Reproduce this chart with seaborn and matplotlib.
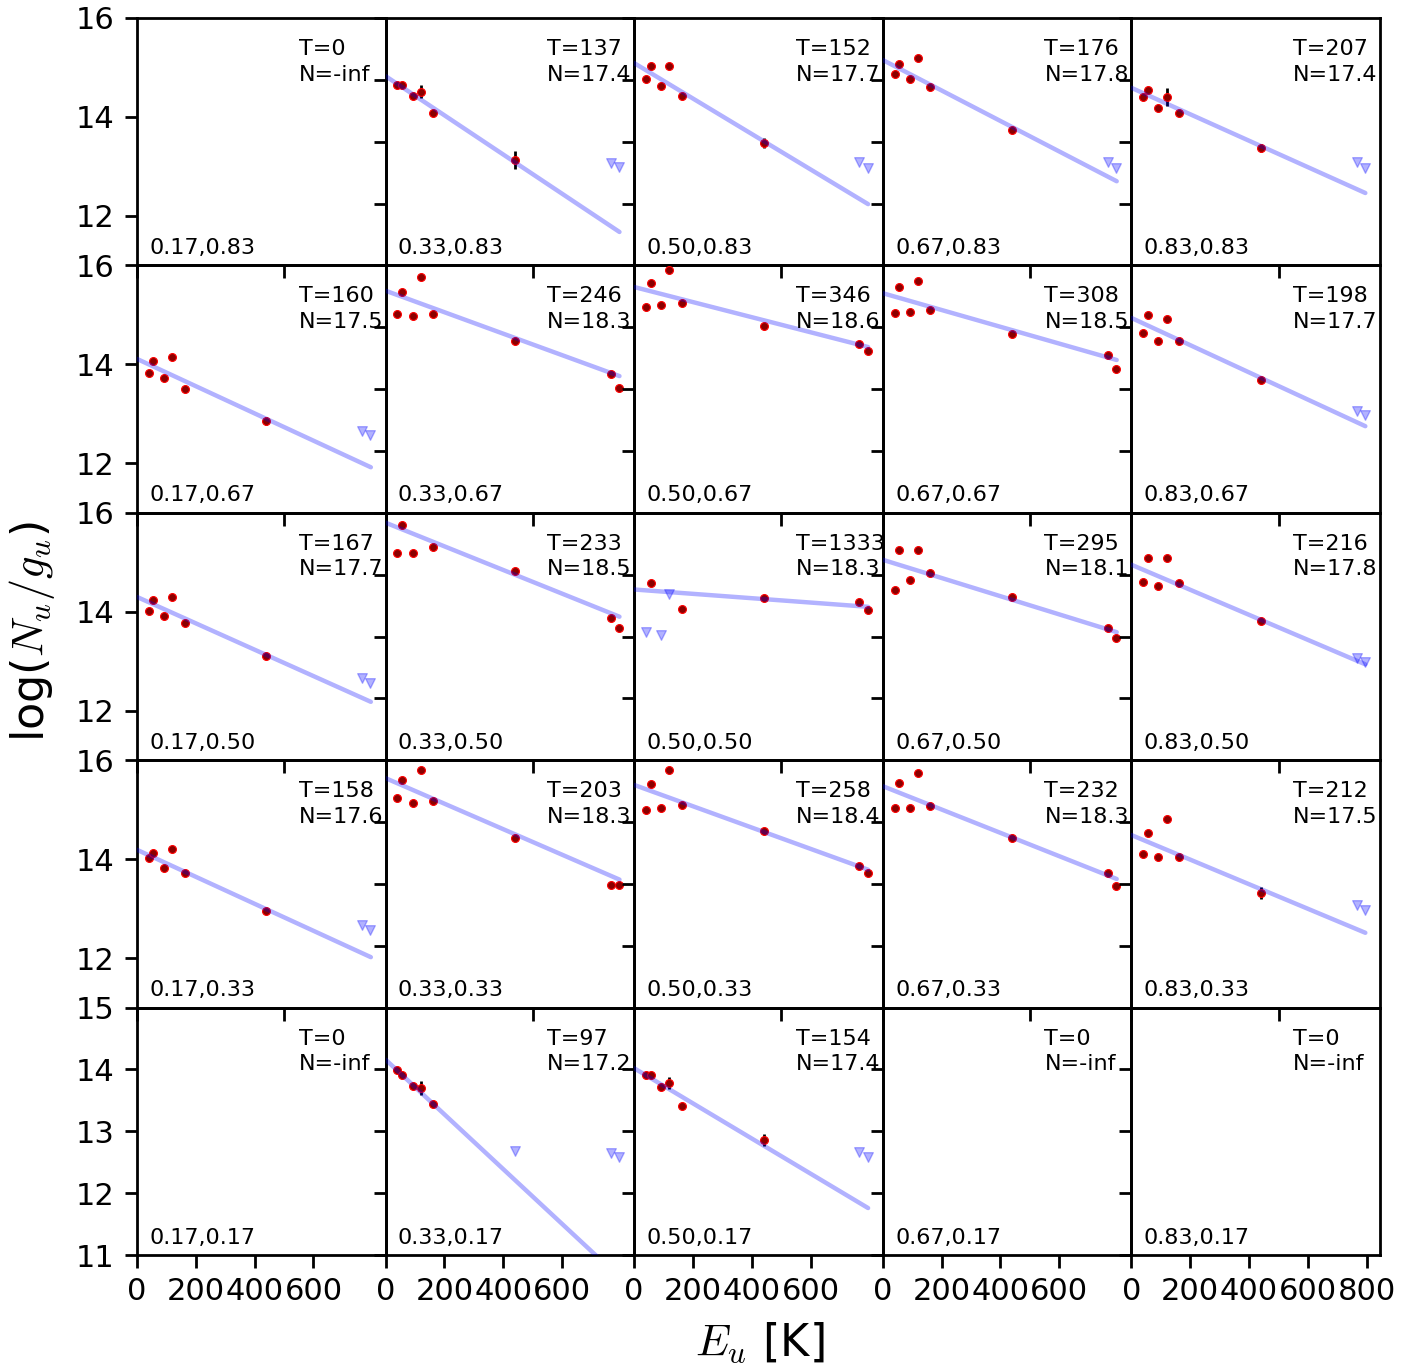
import numpy as np
import pandas as pd
import matplotlib
matplotlib.use("Agg")
import matplotlib.pyplot as plt
import seaborn as sns

nan = np.nan

# ---------------- data ----------------
E_U = [40, 56, 92, 120, 162, 440, 765, 793]          # upper-level energies [K]
FIT_E = [0, 795]                                     # extent of the fitted lines
COL_LABELS = ["0.17", "0.33", "0.50", "0.67", "0.83"]
ROW_LABELS = ["0.83", "0.67", "0.50", "0.33", "0.17"]

T_ROW_083 = ["0", "137", "152", "176", "207"]
N_ROW_083 = ["-inf", "17.4", "17.7", "17.8", "17.4"]
T_ROW_067 = ["160", "246", "346", "308", "198"]
N_ROW_067 = ["17.5", "18.3", "18.6", "18.5", "17.7"]
T_ROW_050 = ["167", "233", "1333", "295", "216"]
N_ROW_050 = ["17.7", "18.5", "18.3", "18.1", "17.8"]
T_ROW_033 = ["158", "203", "258", "232", "212"]
N_ROW_033 = ["17.6", "18.3", "18.4", "18.3", "17.5"]
T_ROW_017 = ["0", "97", "154", "0", "0"]
N_ROW_017 = ["-inf", "17.2", "17.4", "-inf", "-inf"]

# fitted line: log(Nu/gu) at E=0 and at E=795 K
FIT_Y0_083 = [nan, 14.06, 14.27, 14.32, 13.87]
FIT_Y1_083 = [nan, 11.54, 11.99, 12.36, 12.17]
FIT_Y0_067 = [14.11, 14.59, 14.65, 14.55, 14.15]
FIT_Y1_067 = [11.92, 13.21, 13.68, 13.47, 12.40]
FIT_Y0_050 = [14.30, 14.84, 13.76, 14.24, 14.16]
FIT_Y1_050 = [12.18, 13.32, 13.48, 13.07, 12.55]
FIT_Y0_033 = [14.19, 14.71, 14.60, 14.58, 13.79]
FIT_Y1_033 = [12.02, 13.07, 13.23, 13.08, 12.21]
FIT_Y0_017 = [nan, 14.16, 14.02, nan, nan]
FIT_Y1_017 = [nan, 10.64, 11.76, nan, nan]

# detections (nan = not detected) and upper limits (nan = detected)
DET_033_083 = [13.91, 13.91, 13.74, 13.81, 13.46, 12.70, nan, nan]
LIM_033_083 = [nan, nan, nan, nan, nan, nan, 12.65, 12.59]
ERR_033_083 = [0.03, 0.03, 0.03, 0.10, 0.03, 0.15, 0.03, 0.03]
DET_050_083 = [14.01, 14.22, 13.90, 14.22, 13.74, 12.98, nan, nan]
LIM_050_083 = [nan, nan, nan, nan, nan, nan, 12.67, 12.57]
ERR_050_083 = [0.03, 0.03, 0.03, 0.03, 0.03, 0.08, 0.03, 0.03]
DET_067_083 = [14.09, 14.26, 14.01, 14.35, 13.88, 13.19, nan, nan]
LIM_067_083 = [nan, nan, nan, nan, nan, nan, 12.67, 12.57]
DET_083_083 = [13.72, 13.84, 13.54, 13.72, 13.46, 12.90, nan, nan]
LIM_083_083 = [nan, nan, nan, nan, nan, nan, 12.67, 12.57]
ERR_083_083 = [0.03, 0.03, 0.03, 0.15, 0.03, 0.07, 0.03, 0.03]

DET_017_067 = [13.83, 14.07, 13.73, 14.14, 13.51, 12.86, nan, nan]
LIM_017_067 = [nan, nan, nan, nan, nan, nan, 12.66, 12.57]
ERR_017_067 = [0.03, 0.03, 0.03, 0.03, 0.03, 0.08, 0.03, 0.03]
DET_033_067 = [14.21, 14.57, 14.18, 14.81, 14.21, 13.78, 13.24, 13.02]
DET_050_067 = [14.33, 14.72, 14.36, 14.92, 14.39, 14.02, 13.73, 13.62]
DET_067_067 = [14.23, 14.65, 14.25, 14.75, 14.28, 13.89, 13.55, 13.33]
DET_083_067 = [13.91, 14.19, 13.77, 14.14, 13.78, 13.15, nan, nan]
LIM_083_067 = [nan, nan, nan, nan, nan, nan, 12.65, 12.58]

DET_017_050 = [14.02, 14.24, 13.91, 14.30, 13.77, 13.11, nan, nan]
LIM_017_050 = [nan, nan, nan, nan, nan, nan, 12.66, 12.56]
DET_033_050 = [14.35, 14.80, 14.35, nan, 14.44, 14.06, 13.30, 13.13]
DET_050_050 = [nan, 13.86, nan, nan, 13.44, 13.63, 13.55, 13.43]
LIM_050_050 = [13.07, nan, 13.03, 13.69, nan, nan, nan, nan]
DET_067_050 = [13.75, 14.40, 13.91, 14.40, 14.03, 13.64, 13.14, 12.98]
DET_083_050 = [13.88, 14.27, 13.82, 14.27, 13.86, 13.25, nan, nan]
LIM_083_050 = [nan, nan, nan, nan, nan, nan, 12.65, 12.59]

DET_017_033 = [14.02, 14.13, 13.82, 14.21, 13.72, 12.95, nan, nan]
LIM_017_033 = [nan, nan, nan, nan, nan, nan, 12.67, 12.57]
DET_033_033 = [14.39, 14.68, 14.31, 14.84, 14.34, 13.74, 12.98, 12.98]
DET_050_033 = [14.20, 14.62, 14.23, 14.84, 14.28, 13.86, 13.29, 13.18]
DET_067_033 = [14.23, 14.63, 14.23, 14.79, 14.26, 13.74, 13.18, 12.97]
DET_083_033 = [13.48, 13.83, 13.43, 14.05, 13.43, 12.85, nan, nan]
LIM_083_033 = [nan, nan, nan, nan, nan, nan, 12.66, 12.58]
ERR_083_033 = [0.03, 0.03, 0.03, 0.03, 0.03, 0.10, 0.03, 0.03]

DET_033_017 = [13.99, 13.91, 13.73, 13.70, 13.45, nan, nan, nan]
LIM_033_017 = [nan, nan, nan, nan, nan, 12.69, 12.65, 12.58]
ERR_033_017 = [0.03, 0.03, 0.03, 0.12, 0.03, 0.03, 0.03, 0.03]
DET_050_017 = [13.91, 13.91, 13.72, 13.78, 13.41, 12.86, nan, nan]
LIM_050_017 = [nan, nan, nan, nan, nan, nan, 12.67, 12.58]
ERR_050_017 = [0.03, 0.03, 0.03, 0.10, 0.03, 0.10, 0.03, 0.03]

ERR_DEFAULT = 0.03

# tables assembled from the named lists
T_TAB = [T_ROW_083, T_ROW_067, T_ROW_050, T_ROW_033, T_ROW_017]
N_TAB = [N_ROW_083, N_ROW_067, N_ROW_050, N_ROW_033, N_ROW_017]
FIT0_TAB = [FIT_Y0_083, FIT_Y0_067, FIT_Y0_050, FIT_Y0_033, FIT_Y0_017]
FIT1_TAB = [FIT_Y1_083, FIT_Y1_067, FIT_Y1_050, FIT_Y1_033, FIT_Y1_017]
DET_TAB = [
    [None, DET_033_083, DET_050_083, DET_067_083, DET_083_083],
    [DET_017_067, DET_033_067, DET_050_067, DET_067_067, DET_083_067],
    [DET_017_050, DET_033_050, DET_050_050, DET_067_050, DET_083_050],
    [DET_017_033, DET_033_033, DET_050_033, DET_067_033, DET_083_033],
    [None, DET_033_017, DET_050_017, None, None],
]
LIM_TAB = [
    [None, LIM_033_083, LIM_050_083, LIM_067_083, LIM_083_083],
    [LIM_017_067, None, None, None, LIM_083_067],
    [LIM_017_050, None, LIM_050_050, None, LIM_083_050],
    [LIM_017_033, None, None, None, LIM_083_033],
    [None, LIM_033_017, LIM_050_017, None, None],
]
ERR_TAB = [
    [None, ERR_033_083, ERR_050_083, None, ERR_083_083],
    [ERR_017_067, None, None, None, None],
    [None, None, None, None, None],
    [None, None, None, None, ERR_083_033],
    [None, ERR_033_017, ERR_050_017, None, None],
]

# ---------------- style ----------------
sns.set_style("ticks")
plt.rcParams["font.family"] = ["DejaVu Sans"]
plt.rcParams["mathtext.fontset"] = "cm"
for key in ["text.color", "axes.labelcolor", "xtick.color", "ytick.color",
            "axes.edgecolor"]:
    plt.rcParams[key] = "black"

fig, axes = plt.subplots(5, 5, figsize=(7.11, 6.85), dpi=200)
fig.subplots_adjust(left=0.0963, right=0.9705, top=0.9869, bottom=0.0839,
                    wspace=0, hspace=0)

for r in range(5):
    for c in range(5):
        ax = axes[r, c]
        ax.set_facecolor("none")
        det = DET_TAB[r][c]
        if det is not None:
            err = ERR_TAB[r][c] if ERR_TAB[r][c] is not None else [ERR_DEFAULT] * len(E_U)
            df = pd.DataFrame({"E": E_U, "y": det, "err": err}).dropna(subset=["y"])
            ax.errorbar(df["E"], df["y"], yerr=df["err"], fmt="none",
                        ecolor="black", elinewidth=1.0, capsize=0, zorder=2)
            sns.scatterplot(data=df, x="E", y="y", ax=ax, color="darkred",
                            s=8, edgecolor="red", linewidth=0.4, zorder=3,
                            legend=False)
            lim = LIM_TAB[r][c]
            if lim is not None:
                dl = pd.DataFrame({"E": E_U, "y": lim}).dropna(subset=["y"])
                sns.scatterplot(data=dl, x="E", y="y", ax=ax, marker="v",
                                color="blue", alpha=0.3, s=12,
                                edgecolor="blue", linewidth=0.5, zorder=3,
                                legend=False)
            fit = pd.DataFrame({"E": FIT_E, "y": [FIT0_TAB[r][c], FIT1_TAB[r][c]]})
            sns.lineplot(data=fit, x="E", y="y", ax=ax, color="blue",
                         alpha=0.3, linewidth=1.6, zorder=4)
        ax.text(0.65, 0.915, f"T={T_TAB[r][c]}\nN={N_TAB[r][c]}",
                transform=ax.transAxes, ha="left", va="top", fontsize=8,
                linespacing=1.35, clip_on=False, zorder=5, color="black")
        ax.text(0.05, 0.03, f"{COL_LABELS[c]},{ROW_LABELS[r]}",
                transform=ax.transAxes, ha="left", va="bottom", fontsize=8,
                color="black")

        ax.set_xlabel("")
        ax.set_ylabel("")
        ax.set_xlim(0, 845)
        if c == 0 and r < 4:
            ax.set_ylim(11, 16)
            ax.set_yticks([12, 14, 16])
        else:
            ax.set_ylim(11, 15)
            ax.set_yticks([11, 12, 13, 14, 15])
        if r < 4:
            ax.set_xticks([0, 500])
        elif c < 4:
            ax.set_xticks([0, 200, 400, 600])
        else:
            ax.set_xticks([0, 200, 400, 600, 800])
        ax.tick_params(direction="out", length=4.5, width=1.0, labelsize=11,
                       pad=3.5, colors="black", labelleft=(c == 0),
                       labelbottom=(r == 4))
        for sp in ax.spines.values():
            sp.set_linewidth(1.0)
            sp.set_color("black")
            sp.set_visible(True)

fig.text(0.0225, 0.539, "log($N_u/g_u$)", rotation=90, ha="center",
         va="center", fontsize=16, color="black")
fig.text(0.534, 0.02, "$E_u$ [K]", ha="center", va="center", fontsize=16,
         color="black")

fig.savefig("out.png", dpi=200)
